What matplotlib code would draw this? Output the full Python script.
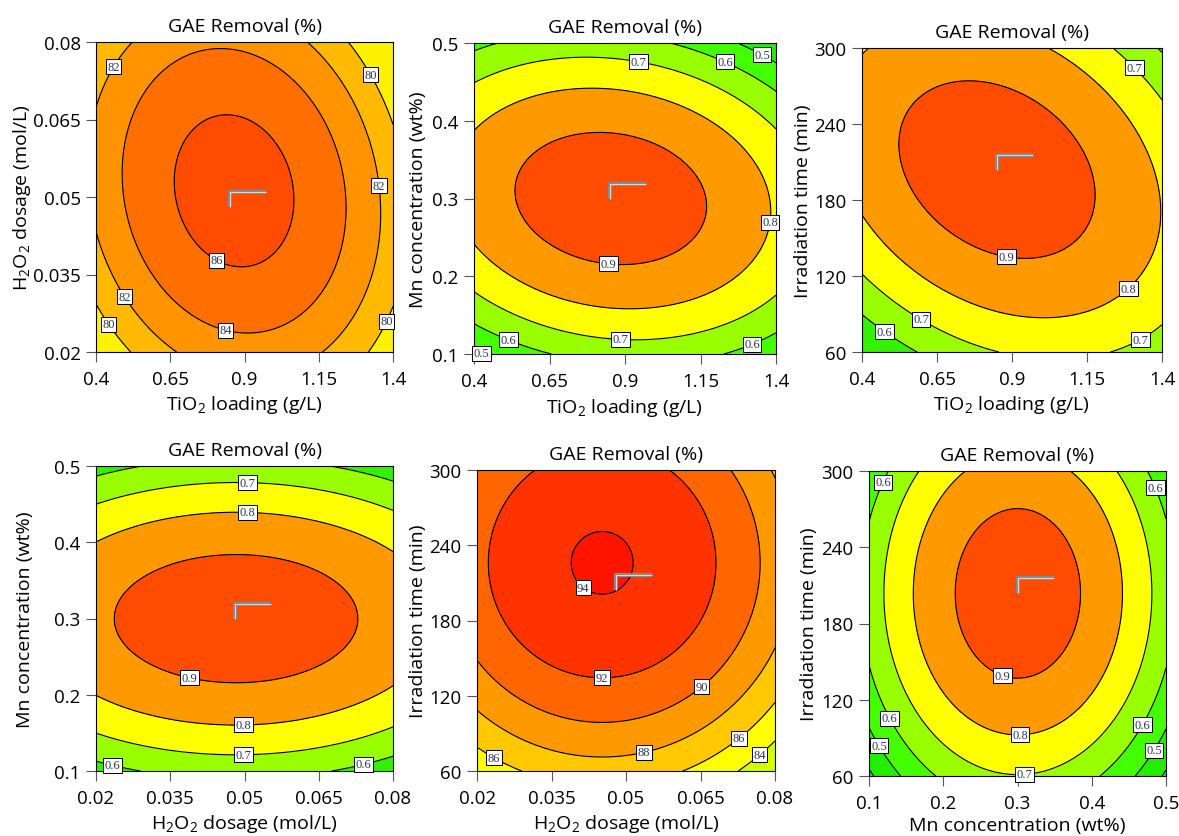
import numpy as np
import matplotlib
matplotlib.use("Agg")
import matplotlib.pyplot as plt
from matplotlib.path import Path

plt.rcParams['font.family'] = ['Open Sans', 'DejaVu Sans']
plt.rcParams['mathtext.fontset'] = 'custom'
plt.rcParams['mathtext.rm'] = 'Open Sans'
plt.rcParams['mathtext.it'] = 'Open Sans'

TITLE = "GAE Removal (%)"

# axis definitions
TIO2_RANGE = [0.4, 1.4]
TIO2_TICKS = [0.4, 0.65, 0.9, 1.15, 1.4]
TIO2_TICKLABELS = ["0.4", "0.65", "0.9", "1.15", "1.4"]
TIO2_LABEL = "TiO$_2$ loading (g/L)"

H2O2_RANGE = [0.02, 0.08]
H2O2_TICKS = [0.02, 0.035, 0.05, 0.065, 0.08]
H2O2_TICKLABELS = ["0.02", "0.035", "0.05", "0.065", "0.08"]
H2O2_LABEL = "H$_2$O$_2$ dosage (mol/L)"

MN_RANGE = [0.1, 0.5]
MN_TICKS = [0.1, 0.2, 0.3, 0.4, 0.5]
MN_TICKLABELS = ["0.1", "0.2", "0.3", "0.4", "0.5"]
MN_LABEL = "Mn concentration (wt%)"

TIME_RANGE = [60, 300]
TIME_TICKS = [60, 120, 180, 240, 300]
TIME_TICKLABELS = ["60", "120", "180", "240", "300"]
TIME_LABEL = "Irradiation time (min)"

# optimum (flag) point
OPT_TIO2 = 0.85
OPT_H2O2 = 0.048
OPT_MN = 0.30
OPT_TIME = 204

# quadratic response models: [peak, x0, y0, a_xx, c_yy, b_xy]
P1_MODEL = [86.8, 0.865, 0.0512, 20.0, 13.5, 4.0]
P2_MODEL = [0.956, 0.853, 0.300, 0.564, 1.258, 0.2]
P3_MODEL = [0.956, 0.850, 204.0, 0.570, 0.715, 0.365]
P4_MODEL = [0.957, 0.0483, 0.2998, 0.339, 1.29, 0.0]
P5_MODEL = [94.16, 0.0452, 226.0, 14.8, 14.8, 0.0]
P6_MODEL = [0.956, 0.3005, 203.7, 1.258, 0.725, 0.0]

# contour levels
P1_LEVELS = [80, 82, 84, 86]
P2_LEVELS = [0.5, 0.6, 0.7, 0.8, 0.9]
P3_LEVELS = [0.6, 0.7, 0.8, 0.9]
P4_LEVELS = [0.6, 0.7, 0.8, 0.9]
P5_LEVELS = [84, 86, 88, 90, 92, 94]
P6_LEVELS = [0.4, 0.5, 0.6, 0.7, 0.8, 0.9]

# band colours (one more than levels)
P1_COLORS = ['#FFF200', '#FFBA00', '#FF9400', '#FF6E00', '#FF4C00']
P2_COLORS = ['#22EE00', '#44FF00', '#99FF00', '#FFFF00', '#FF9900', '#FF4C00']
P3_COLORS = ['#33F200', '#99FF00', '#FFFF00', '#FF9900', '#FF4C00']
P4_COLORS = ['#33F200', '#99FF00', '#FFFF00', '#FF9900', '#FF4C00']
P5_COLORS = ['#D4FF00', '#FFFF00', '#FFC800', '#FF9900', '#FF6600', '#FF3300', '#FF1400']
P6_COLORS = ['#11DD66', '#22EE00', '#44FF00', '#99FF00', '#FFFF00', '#FF9900', '#FF4C00']

# label positions (data coords)
P1_LABELS = [(0.457, 0.0753), (1.333, 0.0739), (1.35, 0.0522), (0.82, 0.0393),
             (0.846, 0.0267), (0.51, 0.0312), (0.457, 0.026), (1.347, 0.0268)]
P2_LABELS = [(0.947, 0.484), (1.237, 0.481), (1.358, 0.488), (1.367, 0.270),
             (0.848, 0.2266), (0.886, 0.129), (0.522, 0.1266), (0.436, 0.11), (1.31, 0.122)]
P3_LABELS = [(1.323, 287.6), (0.885, 141.2), (1.274, 113.5), (0.607, 89.8),
             (0.484, 79.3), (1.316, 74.8)]
P4_LABELS = [(0.0506, 0.489), (0.0506, 0.4489), (0.0393, 0.2325), (0.0498, 0.169),
             (0.0498, 0.1297), (0.0236, 0.1153), (0.0737, 0.1175)]
P5_LABELS = [(0.0422, 210.2), (0.0452, 140.5), (0.0648, 129.0), (0.0534, 78.6),
             (0.0242, 76.0), (0.0725, 87.4), (0.0768, 73.3)]
P6_LABELS = [(0.1108, 293.4), (0.485, 286.9), (0.283, 144.5), (0.303, 98.0),
             (0.3085, 66.6), (0.133, 107.0), (0.1198, 86.0), (0.467, 101.0), (0.483, 80.5)]

W, H = 1179, 837
fig = plt.figure(figsize=(W / 100, H / 100), dpi=100)

# (left, right, top, bottom, x-label centre y, y-label centre x) in pixels
PANEL_BOXES = [
    (96, 393, 43, 353, 405, 22),
    (474, 776, 44, 355, 408, 418),
    (862, 1162, 49, 353, 405, 803),
    (96, 393, 467, 772, 824, 25),
    (477, 775, 471, 772, 824, 418),
    (869, 1166, 472, 777, 826, 809),
]

PANELS = [
    (TIO2_RANGE, H2O2_RANGE, TIO2_TICKS, TIO2_TICKLABELS, H2O2_TICKS, H2O2_TICKLABELS,
     TIO2_LABEL, H2O2_LABEL, P1_MODEL, P1_LEVELS, P1_COLORS, P1_LABELS, (OPT_TIO2, OPT_H2O2), "%d"),
    (TIO2_RANGE, MN_RANGE, TIO2_TICKS, TIO2_TICKLABELS, MN_TICKS, MN_TICKLABELS,
     TIO2_LABEL, MN_LABEL, P2_MODEL, P2_LEVELS, P2_COLORS, P2_LABELS, (OPT_TIO2, OPT_MN), "%.1f"),
    (TIO2_RANGE, TIME_RANGE, TIO2_TICKS, TIO2_TICKLABELS, TIME_TICKS, TIME_TICKLABELS,
     TIO2_LABEL, TIME_LABEL, P3_MODEL, P3_LEVELS, P3_COLORS, P3_LABELS, (OPT_TIO2, OPT_TIME), "%.1f"),
    (H2O2_RANGE, MN_RANGE, H2O2_TICKS, H2O2_TICKLABELS, MN_TICKS, MN_TICKLABELS,
     H2O2_LABEL, MN_LABEL, P4_MODEL, P4_LEVELS, P4_COLORS, P4_LABELS, (OPT_H2O2, OPT_MN), "%.1f"),
    (H2O2_RANGE, TIME_RANGE, H2O2_TICKS, H2O2_TICKLABELS, TIME_TICKS, TIME_TICKLABELS,
     H2O2_LABEL, TIME_LABEL, P5_MODEL, P5_LEVELS, P5_COLORS, P5_LABELS, (OPT_H2O2, OPT_TIME), "%d"),
    (MN_RANGE, TIME_RANGE, MN_TICKS, MN_TICKLABELS, TIME_TICKS, TIME_TICKLABELS,
     MN_LABEL, TIME_LABEL, P6_MODEL, P6_LEVELS, P6_COLORS, P6_LABELS, (OPT_MN, OPT_TIME), "%.1f"),
]

FLAG = Path([(0, 0), (0, 15), (36, 15)], [Path.MOVETO, Path.LINETO, Path.LINETO])

for (l, r, t_, b_, xlab_y, ylab_x), (xr, yr, xt, xtl, yt, ytl, xl, yl, model, levels, colors,
                                      labpos, opt, fmt) in zip(PANEL_BOXES, PANELS):
    ax = fig.add_axes([l / W, 1 - b_ / H, (r - l) / W, (b_ - t_) / H])
    P, x0, y0, a, c, b = model
    x = np.linspace(xr[0], xr[1], 300)
    y = np.linspace(yr[0], yr[1], 300)
    X, Y = np.meshgrid(x, y)
    u = (X - x0) / (xr[1] - xr[0])
    v = (Y - y0) / (yr[1] - yr[0])
    Z = P - a * u ** 2 - c * v ** 2 - b * u * v
    lo = min(Z.min(), levels[0]) - 1
    hi = max(Z.max(), levels[-1]) + 1
    ax.contourf(X, Y, Z, levels=[lo] + list(levels) + [hi], colors=colors)
    cs = ax.contour(X, Y, Z, levels=levels, colors='black', linewidths=0.8)
    labs = ax.clabel(cs, inline=False, fmt=fmt, fontsize=9, manual=labpos)
    for t in labs:
        t.set_rotation(0)
        t.set_fontfamily('Liberation Serif')
        t.set_color('#2a3550')
        t.set_zorder(5)
        t.set_clip_on(False)
        t.set_bbox(dict(facecolor='white', edgecolor='black', linewidth=0.7, pad=1.1))
    ax.plot([opt[0]], [opt[1]], marker=FLAG, markersize=51.8, fillstyle='none',
            markeredgecolor='#8a8a8a', markeredgewidth=3.0, linestyle='none', zorder=6)
    ax.plot([opt[0]], [opt[1]], marker=FLAG, markersize=51.8, fillstyle='none',
            markeredgecolor='#dcdcdc', markeredgewidth=0.7, linestyle='none', zorder=7)
    ax.set_xlim(xr)
    ax.set_ylim(yr)
    ax.set_xticks(xt)
    ax.set_xticklabels(xtl)
    ax.set_yticks(yt)
    ax.set_yticklabels(ytl)
    ax.tick_params(direction='out', length=7, width=0.8, color='#555555', labelsize=13.5)
    ax.tick_params(axis='x', pad=6)
    ax.tick_params(axis='y', pad=4)
    ax.set_xlabel(xl, fontsize=14, va='center')
    ax.set_ylabel(yl, fontsize=14, va='center')
    ax.xaxis.set_label_coords(0.5, (b_ - xlab_y) / (b_ - t_))
    ax.yaxis.set_label_coords((ylab_x - l) / (r - l), 0.5)
    ax.set_title(TITLE, fontsize=14, pad=8)
    for s in ax.spines.values():
        s.set_linewidth(0.8)

fig.savefig("out.png", dpi=100)
